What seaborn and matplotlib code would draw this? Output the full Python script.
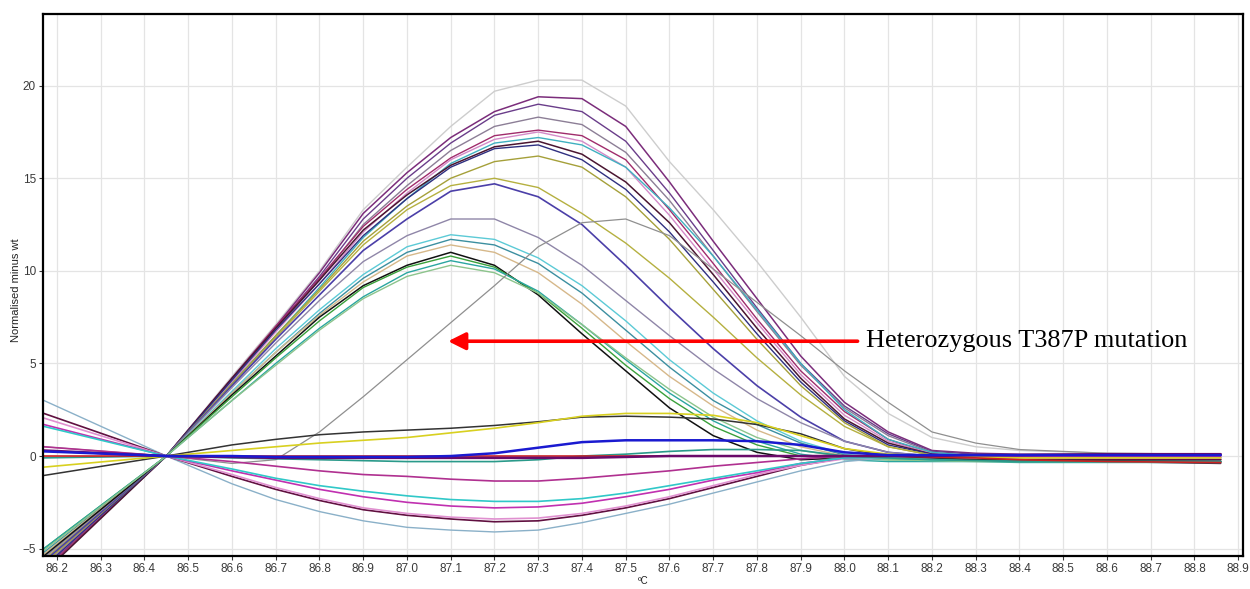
import matplotlib
matplotlib.use("Agg")
import matplotlib.pyplot as plt
import seaborn as sns
import pandas as pd

# shared temperature grid (°C)
temps = [86.17, 86.45, 86.6, 86.7, 86.8, 86.9, 87.0, 87.1, 87.2, 87.3, 87.4, 87.5,
         87.6, 87.7, 87.8, 87.9, 88.0, 88.1, 88.2, 88.3, 88.4, 88.6, 88.86]

# large positive-peak curves
a01 = [-6.0, 0, 4.3, 7.1, 10.0, 13.3, 15.6, 17.8, 19.7, 20.3, 20.3, 18.9, 15.9, 13.3, 10.5, 7.5, 4.3, 2.3, 1.0, 0.5, 0.3, 0.15, 0.1]
a02 = [-6.1, 0, 4.2, 7.0, 9.9, 13.1, 15.3, 17.2, 18.6, 19.4, 19.3, 17.8, 14.8, 11.6, 8.5, 5.4, 2.9, 1.3, 0.3, 0.15, 0.1, 0.1, 0.1]
a03 = [-6.0, 0, 4.1, 6.9, 9.7, 12.8, 15.0, 16.9, 18.4, 19.0, 18.6, 17.0, 14.2, 11.1, 8.0, 5.0, 2.7, 1.2, 0.25, 0.1, 0.05, 0.05, 0.05]
a04 = [-5.9, 0, 4.0, 6.8, 9.5, 12.5, 14.6, 16.5, 17.8, 18.3, 17.9, 16.4, 13.8, 10.8, 7.8, 4.9, 2.6, 1.1, 0.2, 0.0, -0.05, -0.05, -0.1]
a05 = [-6.2, 0, 4.2, 7.0, 9.6, 12.4, 14.4, 16.1, 17.3, 17.6, 17.3, 16.0, 13.3, 10.4, 7.4, 4.6, 2.4, 0.9, 0.1, -0.1, -0.2, -0.3, -0.35]
a06 = [-6.0, 0, 4.0, 6.7, 9.3, 12.1, 14.2, 16.0, 17.1, 17.5, 17.0, 15.6, 13.0, 10.1, 7.2, 4.4, 2.2, 0.8, 0.15, 0.0, -0.1, -0.1, -0.1]
a07 = [-5.7, 0, 3.9, 6.5, 9.1, 11.8, 13.9, 15.8, 16.9, 17.2, 16.8, 15.6, 13.4, 10.8, 7.9, 5.0, 2.5, 0.9, 0.2, 0.0, -0.1, -0.2, -0.3]
a08 = [-6.3, 0, 4.2, 6.9, 9.5, 12.2, 14.1, 15.7, 16.7, 17.0, 16.3, 14.8, 12.6, 9.8, 6.9, 4.2, 2.0, 0.7, 0.1, -0.1, -0.2, -0.3, -0.4]
a09 = [-6.0, 0, 4.1, 6.8, 9.3, 11.9, 13.9, 15.6, 16.6, 16.8, 16.0, 14.4, 12.1, 9.4, 6.6, 4.0, 1.9, 0.6, 0.1, 0.0, 0.0, 0.05, 0.05]
a10 = [-5.8, 0, 3.9, 6.5, 9.0, 11.6, 13.5, 15.0, 15.9, 16.2, 15.6, 14.0, 11.7, 9.0, 6.3, 3.8, 1.8, 0.5, 0.05, -0.1, -0.15, -0.2, -0.2]
a11 = [-5.6, 0, 3.8, 6.4, 8.9, 11.4, 13.3, 14.6, 15.0, 14.5, 13.1, 11.5, 9.6, 7.5, 5.3, 3.3, 1.6, 0.5, 0.05, -0.05, -0.1, -0.1, -0.1]
a12 = [-5.7, 0, 3.8, 6.3, 8.7, 11.1, 12.8, 14.3, 14.7, 14.0, 12.5, 10.3, 8.0, 5.8, 3.8, 2.1, 0.8, 0.2, 0.0, -0.05, 0.0, 0.05, 0.05]
a13 = [-5.5, 0, 3.7, 6.1, 8.4, 10.5, 11.9, 12.8, 12.8, 11.8, 10.3, 8.4, 6.5, 4.7, 3.1, 1.8, 0.8, 0.2, 0.0, -0.1, -0.1, -0.1, -0.1]
a14 = [-5.3, 0, 3.5, 5.8, 7.9, 9.8, 11.3, 11.95, 11.7, 10.7, 9.2, 7.3, 5.2, 3.4, 1.9, 0.8, 0.1, -0.1, -0.2, -0.2, -0.25, -0.3, -0.3]
a15 = [-5.2, 0, 3.4, 5.6, 7.7, 9.6, 11.0, 11.7, 11.4, 10.4, 8.8, 6.8, 4.8, 3.0, 1.7, 0.7, 0.05, -0.15, -0.2, -0.25, -0.3, -0.3, -0.35]
a16 = [-5.3, 0, 3.4, 5.6, 7.6, 9.4, 10.8, 11.4, 11.0, 9.9, 8.2, 6.2, 4.3, 2.7, 1.4, 0.5, 0.0, -0.1, -0.15, -0.2, -0.2, -0.25, -0.3]
a17 = [-5.4, 0, 3.3, 5.4, 7.5, 9.2, 10.3, 11.0, 10.3, 8.7, 6.6, 4.6, 2.6, 1.1, 0.2, -0.2, -0.1, -0.1, -0.1, -0.15, -0.2, -0.2, -0.2]
a18 = [-5.0, 0, 3.2, 5.3, 7.3, 9.1, 10.2, 10.8, 10.2, 8.8, 6.9, 4.9, 3.1, 1.6, 0.6, 0.0, -0.15, -0.2, -0.2, -0.25, -0.3, -0.3, -0.3]
a19 = [-5.0, 0, 3.0, 5.0, 6.9, 8.6, 9.9, 10.55, 10.1, 8.9, 7.1, 5.2, 3.4, 1.9, 0.8, 0.1, -0.2, -0.3, -0.3, -0.3, -0.35, -0.35, -0.35]
a20 = [-5.1, 0, 3.0, 4.9, 6.8, 8.5, 9.7, 10.3, 9.9, 8.8, 7.1, 5.3, 3.6, 2.1, 1.0, 0.3, -0.05, -0.2, -0.25, -0.3, -0.3, -0.3, -0.3]

# heterozygous T387P curve
het = [0.5, 0, -0.4, -0.2, 1.3, 3.2, 5.2, 7.2, 9.2, 11.3, 12.6, 12.8, 11.9, 10.1, 8.3, 6.5, 4.6, 2.9, 1.3, 0.7, 0.35, 0.15, 0.1]

# small positive curves
c01 = [-1.05, 0, 0.6, 0.9, 1.15, 1.3, 1.4, 1.5, 1.65, 1.85, 2.1, 2.15, 2.1, 2.0, 1.7, 1.2, 0.4, 0.0, -0.1, -0.2, -0.2, -0.25, -0.3]
c02 = [-0.6, 0, 0.3, 0.5, 0.7, 0.85, 1.0, 1.25, 1.5, 1.8, 2.15, 2.3, 2.3, 2.2, 1.8, 1.1, 0.4, 0.1, 0.0, -0.05, -0.1, -0.1, -0.1]
c03 = [0.25, 0, 0, -0.05, -0.05, -0.05, -0.05, 0.0, 0.15, 0.45, 0.75, 0.85, 0.85, 0.85, 0.8, 0.6, 0.2, 0.05, 0.05, 0.05, 0.05, 0.05, 0.05]
c04 = [-0.1, 0, -0.1, -0.15, -0.2, -0.25, -0.3, -0.3, -0.3, -0.2, 0.0, 0.1, 0.25, 0.35, 0.35, 0.3, 0.0, -0.1, -0.2, -0.25, -0.3, -0.3, -0.3]

# flat curves
f01 = [0.3, 0, -0.05, -0.1, -0.1, -0.1, -0.1, -0.1, -0.1, -0.1, -0.1, -0.05, 0, 0, 0, 0, 0, 0, 0, 0.05, 0.05, 0.1, 0.1]
f02 = [0, 0, 0, 0, 0, 0, 0, 0, 0, 0, 0, 0, 0, 0, 0, 0, 0, 0, -0.05, -0.1, -0.2, -0.3, -0.35]

# negative curves
d01 = [0.5, 0, -0.3, -0.55, -0.8, -1.0, -1.1, -1.25, -1.35, -1.35, -1.2, -1.0, -0.8, -0.55, -0.35, -0.15, 0, 0, 0, 0, 0, 0, 0]
d02 = [1.6, 0, -0.7, -1.2, -1.6, -1.9, -2.15, -2.35, -2.45, -2.45, -2.3, -2.0, -1.6, -1.2, -0.8, -0.4, -0.1, -0.1, -0.2, -0.2, -0.25, -0.3, -0.3]
d03 = [1.7, 0, -0.8, -1.3, -1.8, -2.2, -2.5, -2.7, -2.8, -2.75, -2.55, -2.2, -1.8, -1.3, -0.9, -0.4, -0.1, 0, 0, 0, 0, 0, 0]
d04 = [2.05, 0, -1.0, -1.7, -2.3, -2.8, -3.1, -3.3, -3.4, -3.35, -3.1, -2.7, -2.2, -1.6, -1.0, -0.5, -0.15, -0.1, -0.1, -0.1, -0.1, -0.1, -0.1]
d05 = [2.3, 0, -1.1, -1.8, -2.4, -2.9, -3.2, -3.4, -3.55, -3.5, -3.2, -2.8, -2.3, -1.7, -1.1, -0.5, -0.1, -0.1, -0.1, -0.15, -0.2, -0.2, -0.2]
d06 = [3.0, 0, -1.5, -2.35, -3.0, -3.5, -3.85, -4.0, -4.1, -4.0, -3.6, -3.1, -2.6, -2.0, -1.4, -0.8, -0.3, -0.1, -0.1, -0.15, -0.2, -0.2, -0.2]

x_ticks = [86.2, 86.3, 86.4, 86.5, 86.6, 86.7, 86.8, 86.9, 87.0, 87.1, 87.2, 87.3, 87.4, 87.5,
           87.6, 87.7, 87.8, 87.9, 88.0, 88.1, 88.2, 88.3, 88.4, 88.5, 88.6, 88.7, 88.8, 88.9]
y_ticks = [-5, 0, 5, 10, 15, 20]
annotation_text = "Heterozygous T387P mutation"

# (series, colour, linewidth) in drawing order
series = [
    (a01, "#cdcdcd", 1.0), (a02, "#7b2d7b", 1.1), (a03, "#6a3d8a", 1.0), (a04, "#8c7e96", 1.0),
    (a05, "#a02c6c", 1.0), (a06, "#d48ac8", 1.0), (a07, "#3fb0c0", 1.0), (a08, "#4a1530", 1.1),
    (a09, "#2f2f80", 1.0), (a10, "#a5a03a", 1.0), (a11, "#b5b040", 1.0), (a12, "#4b3fa8", 1.2),
    (a13, "#8f86a8", 1.0), (a14, "#5ccad6", 1.0), (a15, "#3c8fa0", 1.0), (a16, "#d6b88a", 1.0),
    (a17, "#111111", 1.1), (a18, "#3aa03a", 1.0), (a19, "#2aa6a0", 1.0), (a20, "#8cc48c", 1.0),
    (het, "#8f8f8f", 0.9),
    (d06, "#8ab0c8", 1.0), (d05, "#601040", 1.2), (d04, "#e090d0", 1.2), (d03, "#c030b0", 1.2),
    (d02, "#30c8c8", 1.2), (d01, "#b03090", 1.2),
    (c01, "#333333", 1.1), (c02, "#d8d020", 1.2), (c04, "#2a9a8a", 1.2),
    (f02, "#cc2020", 1.2), (f01, "#6a0a6a", 1.8), (c03, "#1a1ad0", 1.8),
]

sns.set_theme(style="whitegrid")
plt.rcParams["font.family"] = ["Liberation Sans", "DejaVu Sans"]

fig = plt.figure(figsize=(12.5, 5.89), dpi=100)
ax = fig.add_axes([0.0344, 0.056, 0.96, 0.9202])

for vals, col, lw in series:
    df = pd.DataFrame({"t": temps, "v": vals})
    sns.lineplot(data=df, x="t", y="v", color=col, linewidth=lw, ax=ax,
                 estimator=None, sort=False, legend=False)

ax.set_xlim(86.168, 88.911)
ax.set_ylim(-5.4, 23.87)
ax.set_xticks(x_ticks)
ax.set_xticklabels([f"{t:.1f}" for t in x_ticks])
ax.set_yticks(y_ticks)
ax.grid(True, color="#e4e4e4", linewidth=0.9)
ax.set_facecolor("white")
for s in ax.spines.values():
    s.set_color("black")
    s.set_linewidth(1.6)
ax.tick_params(axis="both", labelsize=8.5, colors="#3a3a3a", length=3, width=0.8,
               direction="out", pad=2, bottom=True, left=True)
ax.set_xlabel("ºC", fontsize=7, labelpad=1, color="#222222")
ax.set_ylabel("Normalised minus wt", fontsize=8, color="#222222")
ax.yaxis.set_label_coords(-0.0185, 0.49)

ax.annotate("", xy=(87.094, 6.2), xytext=(88.03, 6.2),
            arrowprops=dict(arrowstyle="-|>", color="red", lw=2.6, mutation_scale=26,
                            shrinkA=0, shrinkB=0))
ax.text(88.05, 6.2, annotation_text, fontsize=18.9, family=["Liberation Serif", "DejaVu Serif"],
        color="black", va="center", ha="left")

fig.savefig("out.png", dpi=100, facecolor="white")
